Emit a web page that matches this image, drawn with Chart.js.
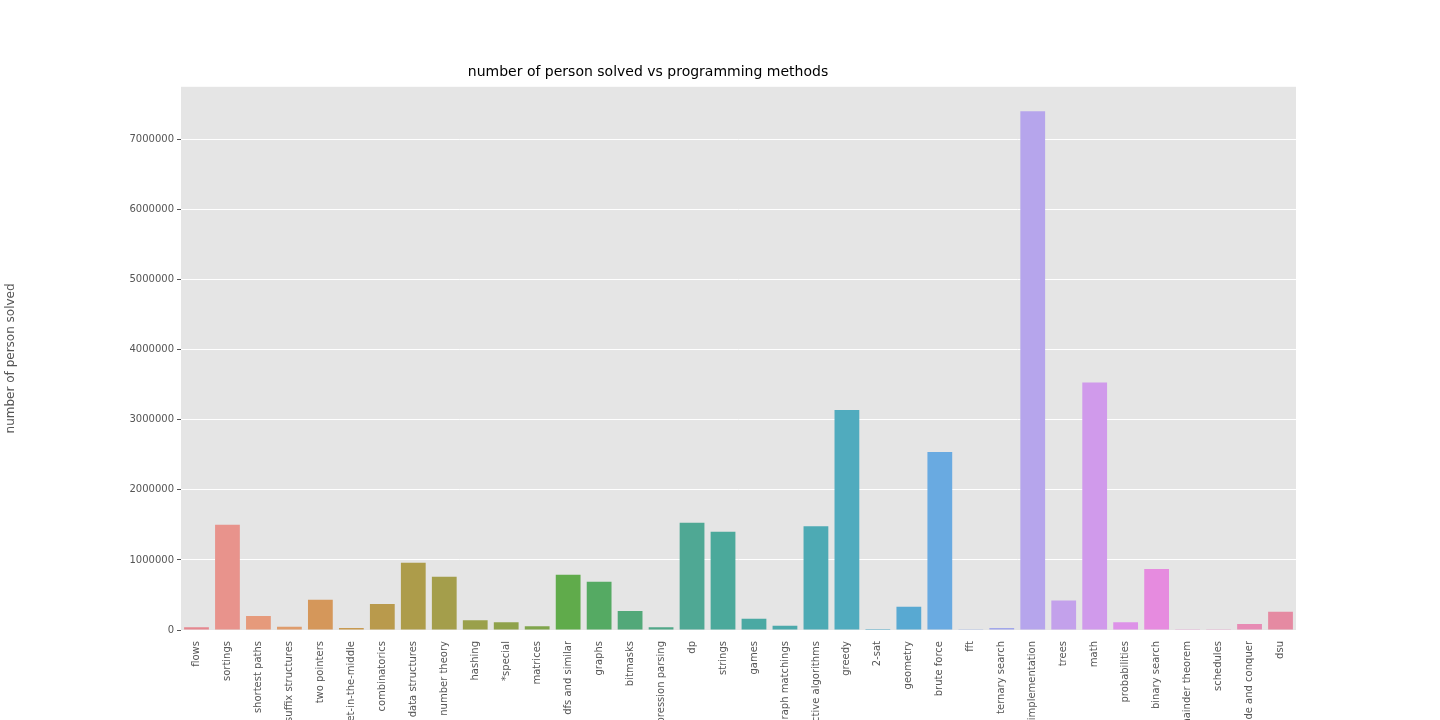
<!DOCTYPE html>
<html>
<head>
<meta charset="utf-8">
<script src="https://cdn.jsdelivr.net/npm/chart.js@4"></script>
<style>
  body { margin: 0; background: #fff; overflow: hidden; }
  #wrap { width: 1440px; height: 800px; }
</style>
</head>
<body>
<div id="wrap"><canvas id="myChart"></canvas></div>
<script>
// data
var methods = ['flows', 'sortings', 'shortest paths', 'suffix structures', 'two pointers',
    'meet-in-the-middle', 'combinatorics', 'data structures', 'number theory', 'hashing',
    '*special', 'matrices', 'dfs and similar', 'graphs', 'bitmasks', 'expression parsing',
    'dp', 'strings', 'games', 'graph matchings', 'constructive algorithms', 'greedy', '2-sat',
    'geometry', 'brute force', 'fft', 'ternary search', 'implementation', 'trees', 'math',
    'probabilities', 'binary search', 'chinese remainder theorem', 'schedules',
    'divide and conquer', 'dsu'];
var solved = [40000, 1500000, 200000, 45000, 430000, 30000, 370000, 960000, 760000, 140000,
    110000, 55000, 790000, 690000, 270000, 40000, 1530000, 1400000, 160000, 60000,
    1480000, 3140000, 15000, 330000, 2540000, 10000, 30000, 7400000, 420000, 3530000,
    110000, 870000, 3000, 10000, 85000, 260000];
var yTicks = [0, 1000000, 2000000, 3000000, 4000000, 5000000, 6000000, 7000000];

var barColors = ['#e5878f','#e8938c','#e69a7b','#df9c6c','#d5975a','#c89a51','#b99a4c','#ad9c4a',
    '#a49e4b','#9aa04b','#8fa24b','#80a54c','#60ab4b','#55aa63','#52a879','#51a788','#4fa894',
    '#4ba99b','#4aa9a3','#4ca9ab','#4daab4','#50abbe','#53aac8','#58a9d2','#69aae1','#8aa7e8',
    '#a1a6ea','#b6a5ec','#c3a1eb','#d09aeb','#dd92e8','#e68bdf','#e68ad0','#e78bc3','#e78bb4','#e58aa2'];

// grey plot background
var plotBg = {
    id: 'plotBg',
    beforeDraw: function(chart) {
        var a = chart.chartArea, ctx = chart.ctx;
        ctx.save();
        ctx.fillStyle = '#e5e5e5';
        ctx.fillRect(a.left, a.top, a.right - a.left, a.bottom - a.top);
        ctx.restore();
    }
};

Chart.defaults.font.family = 'DejaVu Sans';

new Chart(document.getElementById('myChart'), {
    type: 'bar',
    data: {
        labels: methods,
        datasets: [{
            label: 'solved',
            data: solved,
            backgroundColor: barColors,
            barPercentage: 0.8,
            categoryPercentage: 1.0
        }]
    },
    options: {
        responsive: true,
        maintainAspectRatio: false,
        animation: false,
        layout: { padding: { left: 0, right: 144, top: 0, bottom: 0 } },
        plugins: {
            legend: { display: false },
            tooltip: { enabled: false },
            title: {
                display: true,
                text: 'number of person solved vs programming methods',
                color: '#000',
                font: { size: 14, weight: 'normal' },
                padding: { top: 64, bottom: 6 }
            }
        },
        scales: {
            x: {
                grid: { display: false },
                border: { display: false },
                ticks: {
                    color: '#555',
                    font: { size: 10 },
                    autoSkip: false,
                    maxRotation: 90,
                    minRotation: 90
                },
                afterFit: function(scale) { scale.height = 170; }
            },
            y: {
                min: 0,
                max: 7750000,
                border: { display: false },
                grid: { color: '#ffffff', lineWidth: 1, drawTicks: true, tickLength: 4, tickColor: '#555' },
                afterBuildTicks: function(scale) {
                    scale.ticks = yTicks.map(function(v) { return { value: v }; });
                },
                ticks: {
                    color: '#555',
                    font: { size: 10 },
                    callback: function(v) { return String(v); }
                },
                title: {
                    display: true,
                    text: 'number of person solved',
                    color: '#555',
                    font: { size: 12 }
                },
                afterFit: function(scale) { scale.width = 181; }
            }
        }
    },
    plugins: [plotBg]
});
</script>
</body>
</html>
